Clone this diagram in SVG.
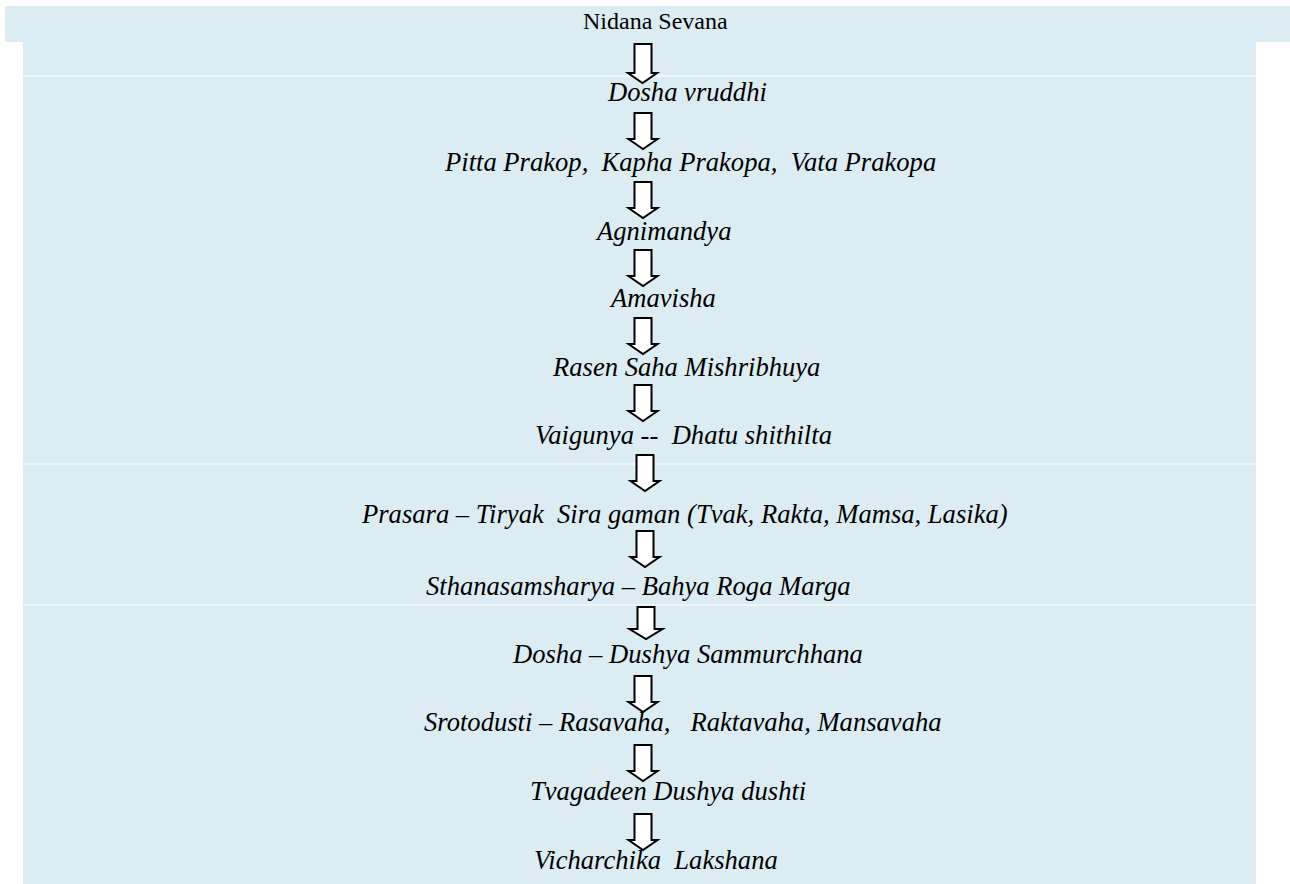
<svg xmlns="http://www.w3.org/2000/svg" width="1290" height="884" viewBox="0 0 1290 884">
<style>
.bg{fill:#DBECF3}
.sep{stroke:#FFFFFF;stroke-width:1.2}
.t{font-family:"Liberation Serif","Times New Roman",serif;font-size:26.6px;fill:#000;font-style:italic}
.u{font-style:normal;font-size:24px}
.arr{fill:#FFFFFF;stroke:#000;stroke-width:2;stroke-linejoin:miter}
</style>
<defs>
<path id="da" class="arr" d="M-8.5,0 H8.5 V26 H14.5 L0,36 L-14.5,26 H-8.5 Z"/>
<path id="db" class="arr" d="M-8.5,0 H8.5 V22 H16.5 L0,32 L-16.5,22 H-8.5 Z"/>
</defs>
<rect class="bg" x="5" y="6" width="1285" height="36"/>
<rect class="bg" x="23" y="42" width="1233" height="842"/>
<line class="sep" x1="23" y1="76" x2="1256" y2="76"/>
<line class="sep" x1="23" y1="464" x2="1256" y2="464"/>
<line class="sep" x1="23" y1="605" x2="1256" y2="605"/>
<g id="connectors">
<path class="arr" d="M634.5,44 H651.5 V73 H657 L642.5,83 L628,73 H634.5 Z"/>
<use href="#da" x="643" y="113"/>
<use href="#da" x="643" y="182"/>
<use href="#da" x="643" y="250"/>
<use href="#da" x="643" y="318"/>
<use href="#da" x="643" y="385"/>
<use href="#da" x="645" y="455"/>
<use href="#da" x="645" y="531"/>
<use href="#db" x="646" y="607"/>
<use href="#da" x="643" y="676"/>
<use href="#da" x="643" y="745"/>
<use href="#da" x="643" y="814"/>
</g>
<g id="n1"><text class="t u" x="583" y="29">Nidana Sevana</text></g>
<g id="n2"><text class="t" x="608" y="101">Dosha vruddhi</text></g>
<g id="n3"><text class="t" x="445" y="171" xml:space="preserve">Pitta Prakop,  Kapha Prakopa,  Vata Prakopa</text></g>
<g id="n4"><text class="t" x="597" y="240">Agnimandya</text></g>
<g id="n5"><text class="t" x="611" y="307">Amavisha</text></g>
<g id="n6"><text class="t" x="553" y="376">Rasen Saha Mishribhuya</text></g>
<g id="n7"><text class="t" x="535" y="444" xml:space="preserve">Vaigunya --  Dhatu shithilta</text></g>
<g id="n8"><text class="t" x="362" y="523" xml:space="preserve">Prasara – Tiryak  Sira gaman (Tvak, Rakta, Mamsa, Lasika)</text></g>
<g id="n9"><text class="t" x="426" y="595">Sthanasamsharya – Bahya Roga Marga</text></g>
<g id="n10"><text class="t" x="513" y="663">Dosha – Dushya Sammurchhana</text></g>
<g id="n11"><text class="t" x="424" y="731" xml:space="preserve">Srotodusti – Rasavaha,   Raktavaha, Mansavaha</text></g>
<g id="n12"><text class="t" x="530" y="800">Tvagadeen Dushya dushti</text></g>
<g id="n13"><text class="t" x="534" y="869" xml:space="preserve">Vicharchika  Lakshana</text></g>
</svg>
